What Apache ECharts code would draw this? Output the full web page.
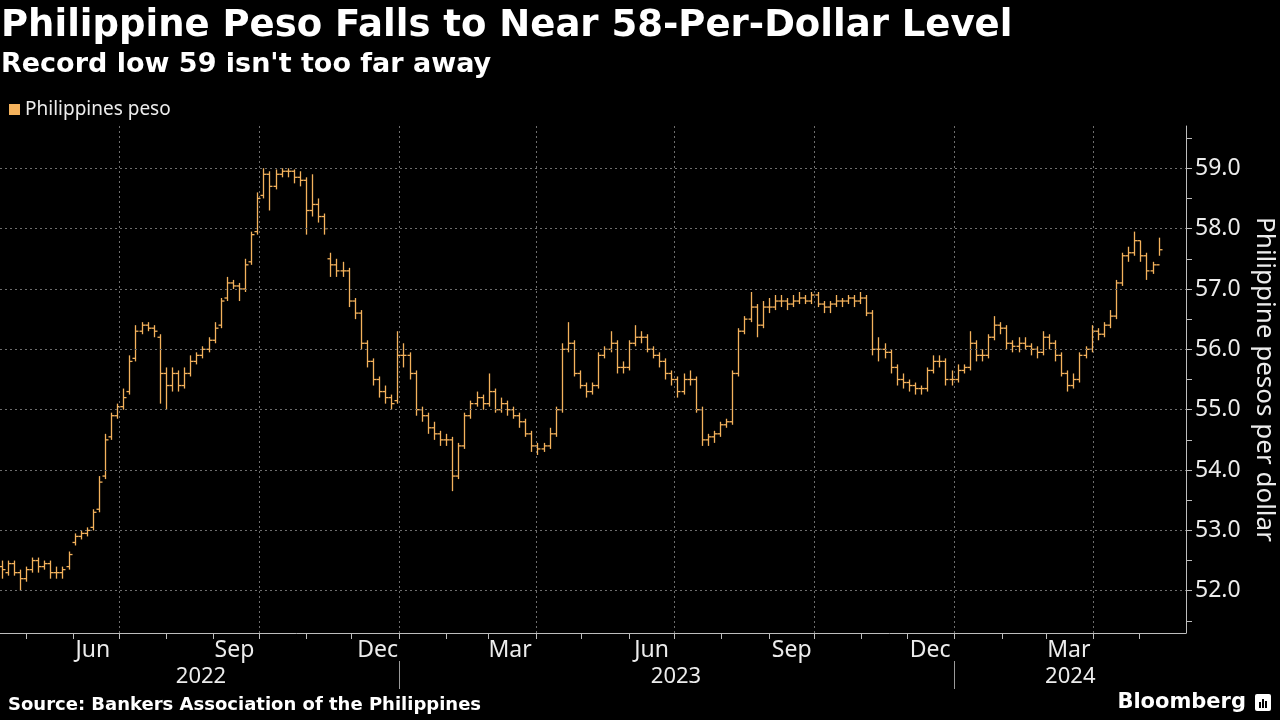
<!DOCTYPE html>
<html>
<head>
<meta charset="utf-8">
<title>Philippine Peso Falls to Near 58-Per-Dollar Level</title>
<script src="https://cdn.jsdelivr.net/npm/echarts@6.0.0/dist/echarts.min.js"></script>
<style>
  html, body { margin: 0; padding: 0; background: #000; }
  #chart { width: 1280px; height: 720px; }
</style>
</head>
<body>
<div id="chart"></div>
<script>
  // USD/PHP bars, one bar per 4 calendar days
  const seriesName = 'Philippines peso'
  const firstDate = '2022-04-15'
  const stepDays = 4

  const opens = [
    52.40, 52.30, 52.45, 52.30, 52.20, 52.35, 52.50, 52.40, 52.45, 52.30,
    52.30, 52.40, 52.80, 52.90, 52.95, 53.05, 53.35, 53.90, 54.55, 54.90,
    55.05, 55.30, 55.85, 56.30, 56.40, 56.35, 56.20, 55.60, 55.40, 55.60,
    55.40, 55.60, 55.80, 55.90, 56.00, 56.15, 56.40, 56.85, 57.10, 57.05,
    57.00, 57.45, 57.95, 58.55, 58.90, 58.70, 58.90, 58.95, 58.95, 58.85,
    58.80, 58.30, 58.40, 58.20, 57.50, 57.40, 57.30, 57.30, 56.80, 56.60,
    56.10, 55.80, 55.50, 55.30, 55.20, 55.15, 55.90, 55.90, 55.60, 55.00,
    54.90, 54.70, 54.60, 54.50, 54.50, 53.90, 54.40, 54.90, 55.10, 55.20,
    55.10, 55.30, 55.00, 55.10, 55.00, 54.90, 54.80, 54.60, 54.40, 54.35,
    54.40, 54.60, 55.00, 56.00, 56.10, 55.60, 55.40, 55.30, 55.40, 55.90,
    56.00, 56.10, 55.70, 55.70, 56.10, 56.20, 56.20, 56.00, 55.90, 55.80,
    55.60, 55.50, 55.30, 55.50, 55.50, 55.00, 54.50, 54.55, 54.60, 54.75,
    54.80, 55.60, 56.30, 56.50, 56.70, 56.40, 56.70, 56.70, 56.80, 56.80,
    56.75, 56.80, 56.85, 56.80, 56.90, 56.75, 56.70, 56.75, 56.80, 56.80,
    56.85, 56.80, 56.85, 56.60, 56.00, 56.00, 55.95, 55.70, 55.50, 55.45,
    55.40, 55.35, 55.35, 55.65, 55.80, 55.80, 55.50, 55.50, 55.65, 55.70,
    56.10, 55.90, 55.90, 56.20, 56.40, 56.35, 56.10, 56.05, 56.10, 56.05,
    56.00, 55.95, 56.20, 56.10, 55.90, 55.60, 55.40, 55.50, 55.90, 56.00,
    56.30, 56.25, 56.40, 56.55, 57.10, 57.55, 57.60, 57.80, 57.55, 57.30,
    57.40
  ]
  const highs = [
    52.50, 52.50, 52.50, 52.35, 52.40, 52.55, 52.55, 52.50, 52.50, 52.40,
    52.40, 52.65, 52.95, 53.00, 53.05, 53.35, 53.90, 54.60, 54.95, 55.10,
    55.35, 55.90, 56.40, 56.45, 56.45, 56.40, 56.25, 55.70, 55.70, 55.65,
    55.70, 55.90, 55.95, 56.05, 56.20, 56.45, 56.85, 57.20, 57.15, 57.10,
    57.50, 57.95, 58.60, 59.00, 58.95, 58.98, 59.00, 59.00, 58.98, 58.95,
    58.85, 58.90, 58.50, 58.25, 57.60, 57.50, 57.45, 57.35, 56.85, 56.65,
    56.15, 55.85, 55.55, 55.40, 55.25, 56.30, 56.10, 55.95, 55.65, 55.05,
    54.95, 54.80, 54.65, 54.60, 54.55, 54.45, 54.95, 55.15, 55.30, 55.25,
    55.60, 55.35, 55.20, 55.15, 55.05, 54.95, 54.85, 54.65, 54.45, 54.45,
    54.70, 55.05, 56.10, 56.45, 56.15, 55.65, 55.45, 55.45, 55.95, 56.05,
    56.30, 56.15, 55.80, 56.15, 56.40, 56.30, 56.25, 56.05, 55.95, 55.85,
    55.65, 55.55, 55.60, 55.65, 55.55, 55.05, 54.60, 54.65, 54.80, 54.85,
    55.65, 56.35, 56.55, 56.95, 56.75, 56.80, 56.85, 56.90, 56.90, 56.85,
    56.90, 56.95, 56.90, 56.95, 56.95, 56.80, 56.80, 56.90, 56.85, 56.90,
    56.90, 56.95, 56.90, 56.65, 56.20, 56.10, 56.00, 55.75, 55.60, 55.50,
    55.45, 55.40, 55.70, 55.90, 55.90, 55.85, 55.65, 55.75, 55.75, 56.30,
    56.15, 56.00, 56.25, 56.55, 56.45, 56.40, 56.15, 56.20, 56.20, 56.10,
    56.05, 56.30, 56.25, 56.15, 55.95, 55.65, 55.60, 55.95, 56.05, 56.40,
    56.35, 56.45, 56.65, 57.15, 57.60, 57.70, 57.95, 57.80, 57.60, 57.45,
    57.85
  ]
  const lows = [
    52.20, 52.25, 52.25, 52.00, 52.15, 52.30, 52.30, 52.35, 52.20, 52.20,
    52.20, 52.35, 52.75, 52.85, 52.90, 53.00, 53.30, 53.85, 54.50, 54.85,
    55.00, 55.25, 55.80, 56.25, 56.30, 56.20, 55.10, 55.00, 55.30, 55.30,
    55.35, 55.55, 55.75, 55.85, 55.95, 56.10, 56.35, 56.80, 57.00, 56.80,
    56.95, 57.40, 57.90, 58.50, 58.30, 58.65, 58.85, 58.85, 58.75, 58.70,
    57.90, 58.20, 58.10, 57.90, 57.20, 57.20, 57.20, 56.70, 56.50, 56.00,
    55.70, 55.40, 55.20, 55.10, 55.00, 55.10, 55.70, 55.50, 54.90, 54.80,
    54.60, 54.50, 54.40, 54.40, 53.65, 53.85, 54.35, 54.85, 55.05, 55.00,
    55.05, 54.95, 54.95, 54.90, 54.85, 54.70, 54.55, 54.30, 54.25, 54.30,
    54.35, 54.55, 54.95, 55.95, 55.55, 55.35, 55.20, 55.25, 55.35, 55.85,
    55.95, 55.60, 55.60, 55.65, 56.05, 56.10, 55.95, 55.85, 55.70, 55.50,
    55.40, 55.20, 55.25, 55.40, 54.95, 54.40, 54.40, 54.45, 54.55, 54.70,
    54.75, 55.55, 56.25, 56.45, 56.20, 56.35, 56.60, 56.65, 56.70, 56.65,
    56.70, 56.75, 56.75, 56.75, 56.70, 56.60, 56.60, 56.70, 56.70, 56.75,
    56.70, 56.75, 56.55, 55.90, 55.80, 55.85, 55.60, 55.40, 55.35, 55.30,
    55.25, 55.25, 55.30, 55.60, 55.70, 55.40, 55.40, 55.45, 55.60, 55.65,
    55.80, 55.80, 55.85, 56.15, 56.25, 56.00, 55.95, 55.95, 56.00, 55.90,
    55.85, 55.90, 56.00, 55.80, 55.55, 55.30, 55.35, 55.45, 55.85, 55.95,
    56.15, 56.20, 56.35, 56.50, 57.05, 57.45, 57.55, 57.45, 57.15, 57.25,
    57.55
  ]
  const closes = [
    52.35, 52.45, 52.30, 52.20, 52.35, 52.50, 52.40, 52.45, 52.30, 52.30,
    52.35, 52.60, 52.90, 52.95, 53.00, 53.30, 53.80, 54.50, 54.90, 55.05,
    55.20, 55.80, 56.30, 56.40, 56.35, 56.30, 55.60, 55.40, 55.60, 55.40,
    55.60, 55.80, 55.90, 56.00, 56.15, 56.35, 56.80, 57.10, 57.05, 57.00,
    57.40, 57.90, 58.50, 58.90, 58.70, 58.90, 58.95, 58.95, 58.85, 58.80,
    58.30, 58.40, 58.20, 58.00, 57.40, 57.30, 57.30, 56.80, 56.60, 56.10,
    55.80, 55.50, 55.30, 55.20, 55.10, 55.90, 55.90, 55.60, 55.00, 54.90,
    54.70, 54.60, 54.50, 54.50, 53.90, 54.40, 54.90, 55.10, 55.20, 55.10,
    55.30, 55.00, 55.10, 55.00, 54.90, 54.80, 54.60, 54.40, 54.35, 54.40,
    54.60, 55.00, 56.00, 56.10, 55.60, 55.40, 55.30, 55.40, 55.90, 56.00,
    56.10, 55.70, 55.70, 56.10, 56.20, 56.20, 56.00, 55.90, 55.80, 55.60,
    55.50, 55.30, 55.50, 55.50, 55.00, 54.50, 54.55, 54.60, 54.75, 54.80,
    55.60, 56.30, 56.50, 56.70, 56.40, 56.70, 56.70, 56.80, 56.80, 56.75,
    56.80, 56.85, 56.80, 56.90, 56.75, 56.70, 56.75, 56.80, 56.80, 56.85,
    56.80, 56.85, 56.60, 56.00, 56.00, 55.95, 55.70, 55.50, 55.45, 55.40,
    55.35, 55.35, 55.65, 55.80, 55.80, 55.50, 55.50, 55.65, 55.70, 56.10,
    55.90, 55.90, 56.20, 56.40, 56.35, 56.10, 56.05, 56.10, 56.05, 56.00,
    55.95, 56.20, 56.10, 55.90, 55.60, 55.40, 55.50, 55.90, 56.00, 56.30,
    56.25, 56.40, 56.55, 57.10, 57.55, 57.60, 57.80, 57.55, 57.30, 57.40,
    57.65
  ]

  // axis ticks and labels
  const monthTicks = [
    '2022-05-01', '2022-06-01', '2022-07-01', '2022-08-01', '2022-09-01', '2022-10-01',
    '2022-11-01', '2022-12-01', '2023-01-01', '2023-02-01', '2023-03-01', '2023-04-01',
    '2023-05-01', '2023-06-01', '2023-07-01', '2023-08-01', '2023-09-01', '2023-10-01',
    '2023-11-01', '2023-12-01', '2024-01-01', '2024-02-01', '2024-03-01', '2024-04-01',
    '2024-05-01'
  ]
  const quarterLines = ['2022-07-01', '2022-10-01', '2023-01-01', '2023-04-01',
    '2023-07-01', '2023-10-01', '2024-01-01', '2024-04-01']
  const monthLabelDates = ['2022-06-14', '2022-09-15', '2022-12-18', '2023-03-15',
    '2023-06-16', '2023-09-16', '2023-12-16', '2024-03-16']
  const monthLabels = ['Jun', 'Sep', 'Dec', 'Mar', 'Jun', 'Sep', 'Dec', 'Mar']
  const yearLabelDates = ['2022-08-24', '2023-07-02', '2024-03-17']
  const yearLabels = ['2022', '2023', '2024']
  const yearBreaks = ['2023-01-01', '2024-01-01']
  const yLabelValues = [52, 53, 54, 55, 56, 57, 58, 59]
  const yTickValues = [51.5, 52, 52.5, 53, 53.5, 54, 54.5, 55, 55.5, 56, 56.5, 57, 57.5, 58, 58.5, 59, 59.5]

  const barColor = '#f4b25c'
  const textColor = '#ececec'
  const font = 'Noto Sans'
  const boldFont = 'DejaVu Sans'
  const DAY = 86400000

  let toTs = s => +new Date(s + 'T00:00:00')
  let nearest = (list, v) => {
    let best = 0
    list.forEach((t, i) => { if (Math.abs(t - v) < Math.abs(list[best] - v)) best = i })
    return best
  }

  let startTs = toTs(firstDate)
  let bars = closes.map((c, i) => [startTs + i * stepDays * DAY, opens[i], highs[i], lows[i], c])
  let monthLabelTs = monthLabelDates.map(toTs)
  let yearLabelTs = yearLabelDates.map(toTs)
  let xMin = toTs('2022-04-14')
  let xMax = toTs('2024-06-01')

  function renderBar(params, api) {
    let t = api.value(0)
    let o = api.coord([t, api.value(1)])
    let h = api.coord([t, api.value(2)])
    let l = api.coord([t, api.value(3)])
    let c = api.coord([t, api.value(4)])
    let x = Math.round(h[0]) + 0.5
    let w = 3
    let style = { stroke: barColor, lineWidth: 1.3 }
    return {
      type: 'group',
      children: [
        { type: 'line', shape: { x1: x, y1: h[1], x2: x, y2: l[1] }, style },
        { type: 'line', shape: { x1: x - w, y1: o[1], x2: x, y2: o[1] }, style },
        { type: 'line', shape: { x1: x, y1: c[1], x2: x + w, y2: c[1] }, style }
      ]
    }
  }

  let chart = echarts.init(document.getElementById('chart'), null, { renderer: 'canvas' })

  let option = {
    backgroundColor: '#000',
    animation: false,
    title: [
      {
        text: 'Philippine Peso Falls to Near 58-Per-Dollar Level',
        left: 1, top: 8, padding: 0,
        textStyle: { color: '#fff', fontSize: 37, fontWeight: 'bold', fontFamily: boldFont }
      },
      {
        text: "Record low 59 isn't too far away",
        left: 1, top: 51, padding: 0,
        textStyle: { color: '#fff', fontSize: 27, fontWeight: 'bold', fontFamily: boldFont }
      },
      {
        text: 'Source: Bankers Association of the Philippines',
        left: 8, top: 696, padding: 0,
        textStyle: { color: '#fff', fontSize: 18, fontWeight: 'bold', fontFamily: boldFont }
      },
      {
        text: 'Bloomberg',
        right: 34, top: 692, padding: 0,
        textStyle: { color: '#fff', fontSize: 21, fontWeight: 'bold', fontFamily: boldFont }
      }
    ],
    legend: {
      data: [{ name: seriesName, icon: 'rect' }],
      left: 4, top: 95,
      itemWidth: 11, itemHeight: 11, itemGap: 10,
      textStyle: { color: textColor, fontSize: 19, fontFamily: font }
    },
    grid: { left: 0, right: 94, top: 126, bottom: 87, containLabel: false, outerBoundsMode: 'none' },
    xAxis: [
      {
        type: 'value',
        min: xMin,
        max: xMax,
        axisLine: { show: true, lineStyle: { color: '#bdbdbd', width: 1 } },
        axisTick: { show: true, customValues: monthTicks.map(toTs), length: 6, lineStyle: { color: '#bdbdbd' } },
        axisLabel: {
          show: true,
          customValues: monthLabelTs,
          formatter: v => monthLabels[nearest(monthLabelTs, v)],
          color: textColor, fontSize: 23, fontFamily: font, margin: 6
        },
        splitLine: { show: false }
      },
      {
        type: 'value',
        min: xMin,
        max: xMax,
        position: 'bottom',
        offset: 28,
        axisLine: { show: false },
        axisTick: { show: true, customValues: yearBreaks.map(toTs), length: 28, lineStyle: { color: '#9a9a9a' } },
        axisLabel: {
          show: true,
          customValues: yearLabelTs,
          formatter: v => yearLabels[nearest(yearLabelTs, v)],
          color: textColor, fontSize: 22, fontFamily: font, margin: 5
        },
        splitLine: { show: false }
      }
    ],
    yAxis: {
      type: 'value',
      position: 'right',
      min: 51.3,
      max: 59.7,
      axisLine: { show: true, lineStyle: { color: '#bdbdbd', width: 1 } },
      axisTick: { show: true, customValues: yTickValues, length: 6, lineStyle: { color: '#bdbdbd' } },
      axisLabel: {
        customValues: yLabelValues,
        formatter: v => v.toFixed(1),
        color: textColor, fontSize: 23, fontFamily: font, margin: 9
      },
      splitLine: { show: false },
      name: 'Philippine pesos per dollar',
      nameLocation: 'middle',
      nameRotate: -90,
      nameGap: 57,
      nameTextStyle: { color: textColor, fontSize: 26, fontFamily: font }
    },
    series: [
      {
        name: 'grid',
        type: 'line',
        data: [],
        z: 1,
        silent: true,
        markLine: {
          silent: true,
          symbol: 'none',
          label: { show: false },
          lineStyle: { type: [2, 3], color: '#6e6e6e', width: 1 },
          data: quarterLines.map(d => ({ xAxis: toTs(d) }))
            .concat(yLabelValues.map(v => ({ yAxis: v })))
        }
      },
      {
        name: seriesName,
        type: 'custom',
        z: 3,
        itemStyle: { color: barColor },
        renderItem: renderBar,
        encode: { x: 0, y: [1, 2, 3, 4] },
        data: bars
      }
    ],
    graphic: [
      {
        type: 'group',
        right: 9, top: 694,
        children: [
          { type: 'rect', shape: { x: 0, y: 0, width: 16, height: 17, r: 2 }, style: { fill: '#fff' } },
          { type: 'rect', shape: { x: 4, y: 8, width: 2, height: 6 }, style: { fill: '#000' } },
          { type: 'rect', shape: { x: 7, y: 5, width: 2, height: 9 }, style: { fill: '#000' } },
          { type: 'rect', shape: { x: 10, y: 7, width: 2, height: 7 }, style: { fill: '#000' } }
        ]
      }
    ]
  }

  chart.setOption(option)
</script>
</body>
</html>
